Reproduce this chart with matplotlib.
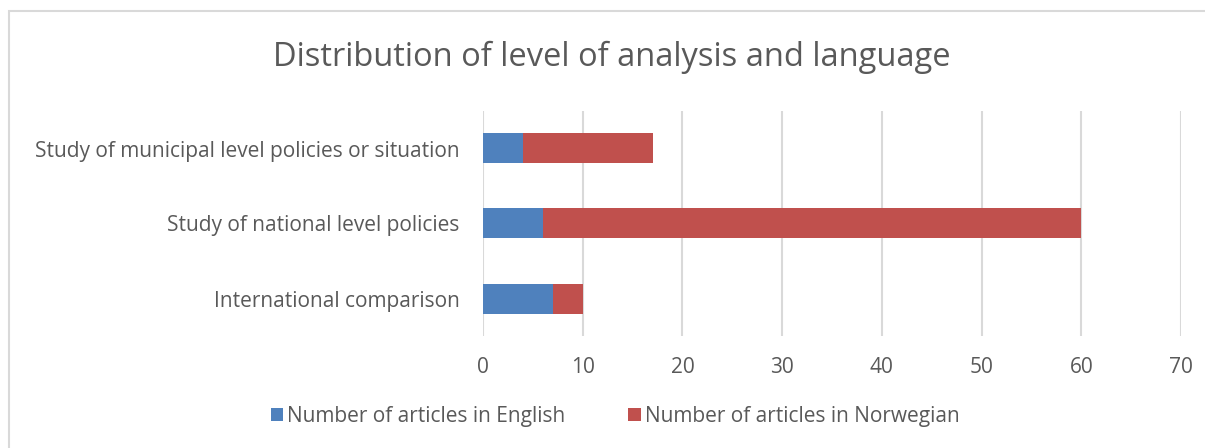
import numpy as np
import matplotlib
matplotlib.use('Agg')
import matplotlib.pyplot as plt
from matplotlib.patches import Rectangle

categories = ["International comparison",
              "Study of national level policies",
              "Study of municipal level policies or situation"]
english = [7, 6, 4]
norwegian = [3, 54, 13]
series_names = ["Number of articles in English", "Number of articles in Norwegian"]
x_ticks = [0, 10, 20, 30, 40, 50, 60, 70]

plt.rcParams['font.family'] = ['Open Sans', 'DejaVu Sans']

fig = plt.figure(figsize=(12.05, 4.48), dpi=100)
ax = fig.add_axes([483 / 1205, 1 - 336 / 448, (1181 - 483) / 1205, 225 / 448])

# chart border (light gray frame, cut off at right/bottom like the source)
fig.patches.append(Rectangle((9 / 1205, -0.1), 1.2, 1 - 11 / 448 + 0.1,
                             transform=fig.transFigure, fill=False,
                             edgecolor='#d9d9d9', linewidth=1.5))

y = np.arange(len(categories))
ax.barh(y, english, height=0.4, color='#4F81BD', label=series_names[0], zorder=3)
ax.barh(y, norwegian, left=english, height=0.4, color='#C0504D',
        label=series_names[1], zorder=3)

ax.set_xlim(0, 70)
ax.set_ylim(-0.5, 2.5)
ax.set_xticks(x_ticks)
ax.set_xticklabels([str(t) for t in x_ticks], fontsize=15, color='#595959')
ax.set_yticks(y)
ax.set_yticklabels(categories, fontsize=15, color='#595959')
ax.tick_params(length=0)
ax.tick_params(axis='x', pad=15)
ax.tick_params(axis='y', pad=17)
ax.grid(axis='x', color='#d9d9d9', linewidth=1.5, zorder=0)
for s in ax.spines.values():
    s.set_visible(False)

fig.text(612 / 1205, 1 - 57 / 448, "Distribution of level of analysis and language",
         fontsize=23.5, color='#595959', ha='center', va='center')

fig.legend(loc='center', bbox_to_anchor=(615 / 1205, 1 - 416 / 448), ncol=2,
           frameon=False, fontsize=15, handlelength=0.6, handleheight=0.6,
           handletextpad=0.2, columnspacing=3.0, labelcolor='#595959')

fig.savefig('out.png', dpi=100)
